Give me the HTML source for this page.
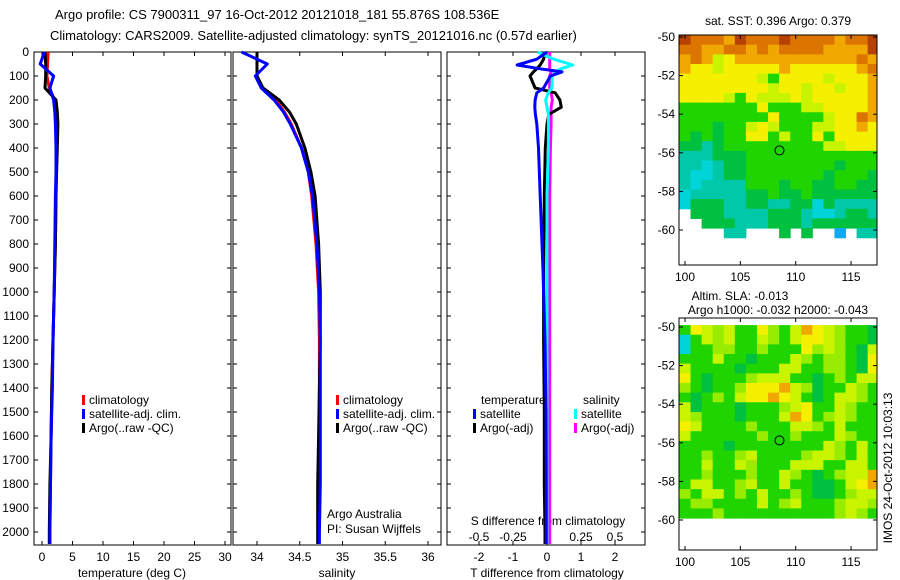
<!DOCTYPE html>
<html><head><meta charset="utf-8">
<style>
body{margin:0;background:#fff}
svg{display:block;font-family:"Liberation Sans",sans-serif}
text{font-size:12px;fill:#000}
</style></head>
<body>
<svg id="fig" width="900" height="580" viewBox="0 0 900 580">
<defs>
<clipPath id="c1"><rect x="679" y="35" width="198" height="230"/></clipPath>
<clipPath id="c2"><rect x="679" y="318" width="198" height="232"/></clipPath>
</defs>
<text x="55" y="19" style="font-size:13px">Argo profile: CS 7900311_97 16-Oct-2012 20121018_181 55.876S 108.536E</text>
<text x="50" y="40" style="font-size:13px">Climatology: CARS2009. Satellite-adjusted climatology: synTS_20121016.nc (0.57d earlier)</text>
<g id="g"></g>
</svg>
<script>
// ---------- data ----------
const depthTicks=[0,100,200,300,400,500,600,700,800,900,1000,1100,1200,1300,1400,1500,1600,1700,1800,1900,2000];
const tempTicks=[0,5,10,15,20,25,30];
const salTicks=[34,34.5,35,35.5,36];
const salTickLabels=["34","34.5","35","35.5","36"];
const tdTicks=[-2,-1,0,1,2];
const sdTicks=[-0.5,-0.25,0,0.25,0.5];
const sdTickLabels=["-0.5","-0.25","0","0.25","0.5"];
const depthsClim=[0,50,100,150,200,250,300,400,500,600,800,1000,1200,1400,1600,1800,2000,2050];
const tempClim=[1.0,0.9,0.8,1.2,2.1,2.4,2.4,2.4,2.3,2.3,2.2,2.0,1.8,1.6,1.5,1.4,1.3,1.3];
const tempSat=[0.4,-0.3,1.9,1.3,1.9,2.1,2.2,2.3,2.3,2.2,2.1,2.0,1.8,1.7,1.5,1.4,1.3,1.3];
const tempArgo=[0.5,0.6,0.6,0.5,2.3,2.5,2.6,2.5,2.4,2.3,2.2,2.0,1.8,1.6,1.5,1.3,1.2,1.2];
const salClim=[34.0,34.0,34.0,34.05,34.22,34.32,34.4,34.52,34.6,34.64,34.69,34.72,34.73,34.73,34.73,34.72,34.72,34.72];
const salSat=[33.82,34.12,33.98,34.05,34.2,34.31,34.39,34.52,34.6,34.65,34.7,34.73,34.74,34.74,34.74,34.74,34.73,34.73];
const salArgo=[34.0,34.0,34.0,34.07,34.26,34.38,34.46,34.56,34.63,34.68,34.72,34.74,34.74,34.73,34.72,34.71,34.71,34.71];
const diffDepths=[0,30,54,70,83,100,150,170,200,230,260,300,400,600,900,1200,1500,1800,2000,2050];
const tdSat=[0,-0.3,-0.88,-0.2,0.44,0.1,-0.1,-0.3,-0.35,-0.36,-0.34,-0.3,-0.25,-0.2,-0.12,-0.06,-0.03,-0.02,-0.02,-0.02];
const tdArgo=[-0.05,-0.1,-0.2,-0.3,-0.4,-0.5,-0.35,0.24,0.38,0.42,0.05,0.0,-0.05,-0.08,-0.1,-0.1,-0.08,-0.08,-0.06,-0.06];
const sdSat=[-0.07,0.05,0.19,0.1,0.06,0.04,0.035,0.01,-0.01,0.0,0.01,0.01,0.01,0.0,0.0,0.0,0.0,0.0,0.0,0.0];
const sdArgo=[0.02,0.02,0.02,0.02,0.03,0.02,0.02,0.03,0.04,0.03,0.03,0.03,0.025,0.02,0.02,0.02,0.02,0.02,0.02,0.02];
const lonTicks=[100,105,110,115];
const latTicks=[-50,-52,-54,-56,-58,-60];
const sstRows=["ROOOoROOOROOOOoOOR","OOooOOoOoOOOOooooR","oOoyYoooooooooooOo","oYYyYYYYYoYYYYYYoO","YYYYYYYygYYYYyYYYo","YYYYYYYYyYYyYYyYYo","YYYYygYyyyYyYYYYYo","gggggggYgggyyYYYYo","ggggggggYggggyYYOo","gggaggyYygggyyYYoY","gagaggYYgyggYgYYYY","aatagggggggggyyYYY","tttaaagggggggggggg","ttctaaggggggggaggg","tcctaagggggggaggga","tcttttgggaggaaggaa","ctttttaagaagaaaaaa","caaattaattaacatttt",".aaattttaaatcctaat","..aaatttaaataaaaaa","....tt...a.a..b.tt"];
const slaRows=["gYylyggYlgyoYylgga","cgylyggylgyYYylgga","cggllgglgggYlylgay","gggyggagggylgllgaY","yggggagggyyggllgaY","Ygaggglyyyggaglgyy","lgagglYYYoylaggylg","gaglgyYYoYygagyylg","yagggaggglyYggylgg","ylgggagggyoYglylgg","Yygggglgggyylgyggg","ygggggglgglgggylgg","ggggaggggggggylgyg","gglgglygggglyylgyg","ggyggylgggyyyggyyg","gglggglggylgaglyyo","gyygglyggyggaagyYo","lgyyglgygglgaaglyy","gllggggyglyggglyyl","ggglgggggggggglylg"];
const argoLon=108.536, argoLat=-55.876;
// ---------- helpers ----------
const NS="http://www.w3.org/2000/svg";
const G=document.getElementById('g');
function el(t,a,p){const e=document.createElementNS(NS,t);for(const k in a)e.setAttribute(k,a[k]);(p||G).appendChild(e);return e;}
function txt(x,y,s,anchor,size){const e=el('text',{x:x,y:y,'text-anchor':anchor||'start'});if(size)e.style.fontSize=size+'px';e.textContent=s;return e;}
const yD=p=>52+0.24*p;
const xT=t=>42+6.1*t;
const xS=s=>257+85.5*(s-34);
const xTd=d=>547+34*d;
const xSd=d=>547+136*d;
const TOP=52,BOT=545;
const panels=[{x0:34,x1:231},{x0:233,x1:441},{x0:447,x1:645}];
panels.forEach((p,i)=>{
  const r=el('rect',{x:p.x0,y:TOP,width:p.x1-p.x0,height:BOT-TOP,fill:'none',stroke:'#000','stroke-width':1});
  
  
  depthTicks.forEach(d=>{el('line',{x1:p.x0,x2:p.x0+4,y1:yD(d),y2:yD(d),stroke:'#000'});el('line',{x1:p.x1,x2:p.x1-4,y1:yD(d),y2:yD(d),stroke:'#000'});});
});
depthTicks.forEach(d=>{const t=txt(29,yD(d)+4,String(d),'end');});
function xticks(arr,labels,fx,ytext,top){arr.forEach((v,i)=>{const x=fx(v);el('line',{x1:x,x2:x,y1:BOT,y2:BOT-4,stroke:'#000'});if(top)el('line',{x1:x,x2:x,y1:TOP,y2:TOP+4,stroke:'#000'});const t=txt(x,ytext,labels[i],'middle');});}
xticks(tempTicks,tempTicks.map(String),xT,561,true);
xticks(salTicks,salTickLabels,xS,561,true);
xticks(tdTicks,tdTicks.map(String),xTd,561,true);
sdTicks.forEach((v,i)=>{const t=txt(xSd(v),541,sdTickLabels[i],'middle');});
[[132,'temperature (deg C)','x-axis-title-temperature'],[337,'salinity','x-axis-title-salinity'],[547,'T difference from climatology','x-axis-title-tdiff']].forEach(a=>{const t=txt(a[0],577,a[1],'middle');});
const st=txt(548,525,'S difference from climatology','middle');


function line(ds,vs,fx,color,w,name){const pts=ds.map((d,i)=>fx(vs[i]).toFixed(1)+','+yD(d).toFixed(1)).join(' ');const e=el('polyline',{points:pts,fill:'none',stroke:color,'stroke-width':w,'stroke-linejoin':'round'});}
line(depthsClim,tempClim,xT,'#f00',3,'temp-climatology-line');
line(depthsClim,tempArgo,xT,'#000',3,'temp-argo-line');
line(depthsClim,tempSat,xT,'#00f',3,'temp-satellite-line');
line(depthsClim,salClim,xS,'#f00',3,'sal-climatology-line');
line(depthsClim,salArgo,xS,'#000',3,'sal-argo-line');
line(depthsClim,salSat,xS,'#00f',3,'sal-satellite-line');
line(diffDepths,sdArgo,xSd,'#f0f',3,'sdiff-argo-line');
line(diffDepths,tdArgo,xTd,'#000',3,'tdiff-argo-line');
line(diffDepths,sdSat,xSd,'#0ff',3,'sdiff-satellite-line');
line(diffDepths,tdSat,xTd,'#00f',3,'tdiff-satellite-line');
function leg(x,y,color,label){el('rect',{x:x,y:y-9,width:3,height:10,fill:color});const t=txt(x+7,y,label);}
[[82,'#f00','climatology',404],[82,'#00f','satellite-adj. clim.',418],[82,'#000','Argo(..raw -QC)',432]].forEach(a=>leg(a[0],a[3],a[1],a[2]));
[[336,'#f00','climatology',404],[336,'#00f','satellite-adj. clim.',418],[336,'#000','Argo(..raw -QC)',432]].forEach(a=>leg(a[0],a[3],a[1],a[2]));
txt(481,404,'temperature');txt(583,404,'salinity');
leg(473,418,'#00f','satellite');leg(473,432,'#000','Argo(-adj)');
leg(574,418,'#0ff','satellite');leg(574,432,'#f0f','Argo(-adj)');
txt(327,518,'Argo Australia');txt(327,533,'PI: Susan Wijffels');
// ---------- maps ----------
const pal={R:'#b84000',O:'#dc7400',o:'#f0a800',Y:'#f4f000',y:'#c8f400',l:'#98ec00',g:'#20d400',a:'#00c040',t:'#00c8a8',c:'#00d4d8',b:'#10a8f0'};
function map(y0,y1,latTop,rows,name,clip){
  const fx=l=>685+(l-100)*11.07;
  const fy=l=>latTop+(-50-l)*19.3;
  const x0=679,x1=877;
  const cg=el('g',{'clip-path':'url(#'+clip+')'});
  rows.forEach((r,ri)=>{for(let ci=0;ci<r.length;ci++){const c=r[ci];if(!pal[c])continue;
    const la=-49.9-ri*0.5;const lo=99.5+ci;
    el('rect',{x:fx(lo),y:fy(la),width:11.6,height:10.2,fill:pal[c]},cg);}});
  const fr=el('rect',{x:x0,y:y0,width:x1-x0,height:y1-y0,fill:'none',stroke:'#000'});
  
  
  lonTicks.forEach(l=>{el('line',{x1:fx(l),x2:fx(l),y1:y1,y2:y1-4,stroke:'#000'});el('line',{x1:fx(l),x2:fx(l),y1:y0,y2:y0+4,stroke:'#000'});txt(fx(l),y1+16,String(l),'middle');});
  latTicks.forEach(l=>{el('line',{x1:x0,x2:x0+4,y1:fy(l),y2:fy(l),stroke:'#000'});el('line',{x1:x1,x2:x1-4,y1:fy(l),y2:fy(l),stroke:'#000'});txt(x0-4,fy(l)+4,String(l),'end');});
  const m=el('circle',{cx:fx(argoLon),cy:fy(argoLat),r:4.5,fill:'none',stroke:'#000'});
  
  
}
map(35,265,37,sstRows,'sst-map','c1');
map(318,550,327,slaRows,'sla-map','c2');
txt(778,25,'sat. SST: 0.396 Argo: 0.379','middle');
txt(740,300,'Altim. SLA: -0.013','middle');
txt(778,314,'Argo h1000: -0.032 h2000: -0.043','middle');
const im=txt(0,0,'IMOS 24-Oct-2012 10:03:13','middle');
im.setAttribute('transform','translate(892,468) rotate(-90)');


</script>
</body></html>
